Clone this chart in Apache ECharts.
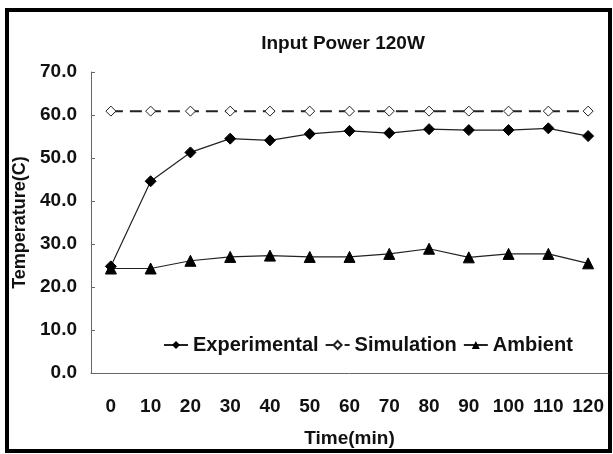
<!DOCTYPE html>
<html>
<head>
<meta charset="utf-8">
<script src="https://cdn.jsdelivr.net/npm/echarts@6/dist/echarts.min.js"></script>
<style>
  html, body { margin: 0; padding: 0; background: #fff; }
  #main { width: 613px; height: 454px; }
</style>
</head>
<body>
<div id="main"></div>
<script>
// time axis categories (min)
var times = ['0', '10', '20', '30', '40', '50', '60', '70', '80', '90', '100', '110', '120'];
// temperatures
var experimental = [24.8, 44.6, 51.3, 54.5, 54.1, 55.6, 56.3, 55.8, 56.7, 56.5, 56.5, 56.9, 55.1];
var simulation = [60.9, 60.9, 60.9, 60.9, 60.9, 60.9, 60.9, 60.9, 60.9, 60.9, 60.9, 60.9, 60.9];
var ambient = [24.3, 24.3, 26.1, 27.0, 27.3, 27.0, 27.0, 27.7, 28.9, 26.9, 27.7, 27.7, 25.5];
var yTicks = [0, 10, 20, 30, 40, 50, 60, 70];

var font = 'Liberation Sans, Arial, sans-serif';
var lineColor = '#222';

var myChart = echarts.init(document.getElementById('main'));
myChart.setOption({
	animation: false,
	backgroundColor: '#fff',
	title: {
		text: 'Input Power 120W',
		left: 338, top: 29, textAlign: 'center',
		textStyle: { fontFamily: font, fontWeight: 'bold', fontSize: 19, color: '#111' }
	},
	legend: {
		data: ['Experimental', 'Simulation', 'Ambient'],
		left: 158, top: 330,
		itemWidth: 24, itemHeight: 10, itemGap: 6,
		textStyle: { fontFamily: font, fontWeight: 'bold', fontSize: 20, color: '#111' }
	},
	grid: { left: 91, right: 5, top: 72, bottom: 81 },
	xAxis: {
		type: 'category',
		data: times,
		name: 'Time(min)',
		nameLocation: 'middle',
		nameGap: 56,
		nameTextStyle: { fontFamily: font, fontWeight: 'bold', fontSize: 19, color: '#111' },
		axisLine: { lineStyle: { color: '#666', width: 1 } },
		axisTick: { inside: true, length: 5, lineStyle: { color: '#666' } },
		axisLabel: { interval: 0, hideOverlap: false, margin: 24, fontFamily: font, fontWeight: 'bold', fontSize: 19, color: '#111' }
	},
	yAxis: {
		type: 'value',
		min: 0, max: 70, interval: 10,
		name: 'Temperature(C)',
		nameLocation: 'middle',
		nameGap: 51,
		nameTextStyle: { fontFamily: font, fontWeight: 'bold', fontSize: 18, color: '#111' },
		axisLine: { show: true, lineStyle: { color: '#666', width: 1 } },
		axisTick: { show: true, inside: true, length: 4, lineStyle: { color: '#666' } },
		splitLine: { show: false },
		axisLabel: {
			margin: 14, fontFamily: font, fontWeight: 'bold', fontSize: 19, color: '#111',
			formatter: function (v) { return yTicks.indexOf(v) >= 0 ? v.toFixed(1) : ''; }
		}
	},
	series: [
		{
			name: 'Experimental', type: 'line', data: experimental,
			symbol: 'diamond', symbolSize: 11,
			lineStyle: { color: lineColor, width: 1.2 },
			itemStyle: { color: '#000', borderColor: '#000' }
		},
		{
			name: 'Simulation', type: 'line', data: simulation,
			symbol: 'diamond', symbolSize: 10,
			lineStyle: { color: lineColor, width: 2, type: [12, 7] },
			itemStyle: { color: '#fff', borderColor: '#222', borderWidth: 1 }
		},
		{
			name: 'Ambient', type: 'line', data: ambient,
			symbol: 'triangle', symbolSize: 11,
			lineStyle: { color: lineColor, width: 1.2 },
			itemStyle: { color: '#000', borderColor: '#000' }
		}
	],
	graphic: [{
		type: 'rect',
		shape: { x: 7, y: 10, width: 603, height: 441 },
		style: { fill: 'none', stroke: '#000', lineWidth: 4 },
		silent: true
	}]
});
</script>
</body>
</html>
